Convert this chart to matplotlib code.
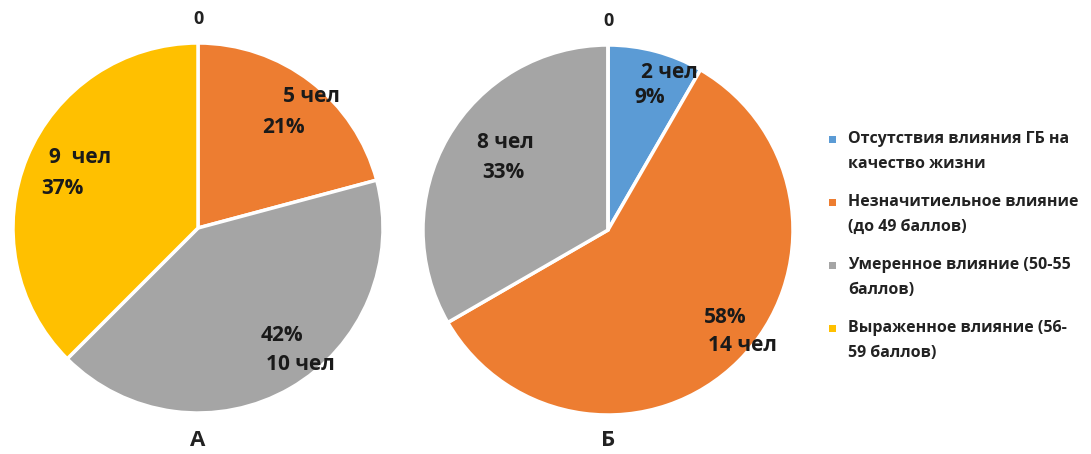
import matplotlib
matplotlib.use("Agg")
import matplotlib.pyplot as plt
import numpy as np
from matplotlib.patches import Rectangle

plt.rcParams['font.family'] = ['Open Sans', 'DejaVu Sans']
plt.rcParams['font.weight'] = 'bold'

# категории и данные
kategorii = ['Отсутствия влияния ГБ на\nкачество жизни',
             'Незначитиельное влияние\n(до 49 баллов)',
             'Умеренное влияние (50-55\nбаллов)',
             'Выраженное влияние (56-\n59 баллов)']
cveta = ['#5B9BD5', '#ED7D31', '#A5A5A5', '#FFC000']

chel_A = [0, 5, 10, 9]
proc_A = ['', '21%', '42%', '37%']
chel_B = [2, 14, 8, 0]
proc_B = ['9%', '58%', '33%', '']

# порядок строк в подписи: True - сначала "чел", потом процент
chel_sverhu_A = [True, True, False, True]
chel_sverhu_B = [True, False, True, True]
probel_A = ['', '', '', ' ']
probel_B = ['', '', '', '']

# сдвиги строк подписей (пиксели) относительно точки на 0.8 радиуса
sdvig_verh_A = [(0, 0), (23, 14), (10, 21), (19, 14)]
sdvig_niz_A = [(0, 0), (-5, -17), (28, -8), (1, -17)]
sdvig_verh_B = [(23, 15), (13, 17), (26, 14), (0, 0)]
sdvig_niz_B = [(3, -10), (30, -11), (24, -16), (0, 0)]

W, H = 1091, 454
fig = plt.figure(figsize=(W / 100, H / 100), dpi=100)
R = 185


def krug(cx, cy, chel, proc, verh, sdv_v, sdv_n, probel, bukva):
    ax = fig.add_axes([(cx - R) / W, (H - cy - R) / H, 2 * R / W, 2 * R / H])
    wedges, _ = ax.pie(chel, colors=cveta, startangle=90, counterclock=False,
                       radius=1, wedgeprops=dict(edgecolor='white', linewidth=2.5))
    ax.set_xlim(-1, 1)
    ax.set_ylim(-1, 1)
    ax.axis('off')
    for i, w in enumerate(wedges):
        ugol = np.deg2rad((w.theta1 + w.theta2) / 2)
        if chel[i] == 0:
            ax.text(1.13 * np.cos(ugol), 1.13 * np.sin(ugol), '0', ha='center',
                    va='center', fontsize=13, fontweight='bold', color='#222222')
            continue
        x, y = 0.8 * np.cos(ugol), 0.8 * np.sin(ugol)
        t_chel = f'{chel[i]}{probel[i]} чел'
        if verh[i]:
            t1, t2 = t_chel, proc[i]
        else:
            t1, t2 = proc[i], t_chel
        for t, s in ((t1, sdv_v[i]), (t2, sdv_n[i])):
            ax.annotate(t, (x, y), xytext=s, textcoords='offset pixels',
                        ha='center', va='center', fontsize=15,
                        fontweight='bold', color='#1a1a1a')
    ax.text(0, -(440 - cy) / R, bukva, ha='center', va='center', fontsize=16,
            fontweight='bold', color='#222222')
    return wedges


krug(198, 228, chel_A, proc_A, chel_sverhu_A, sdvig_verh_A, sdvig_niz_A, probel_A, 'А')
krug(608, 230, chel_B, proc_B, chel_sverhu_B, sdvig_verh_B, sdvig_niz_B, probel_B, 'Б')

# легенда справа
for i, (k, c) in enumerate(zip(kategorii, cveta)):
    y0 = 139 + i * 63
    fig.add_artist(Rectangle(((829) / W, 1 - (y0 + 3.5) / H), 7 / W, 7 / H,
                             transform=fig.transFigure, facecolor=c, edgecolor='none'))
    for j, stroka in enumerate(k.split('\n')):
        fig.text(848 / W, 1 - (y0 + 25 * j) / H, stroka, ha='left', va='center',
                 fontsize=11.5, fontweight='bold', color='#222222')

fig.savefig('out.png', dpi=100)
